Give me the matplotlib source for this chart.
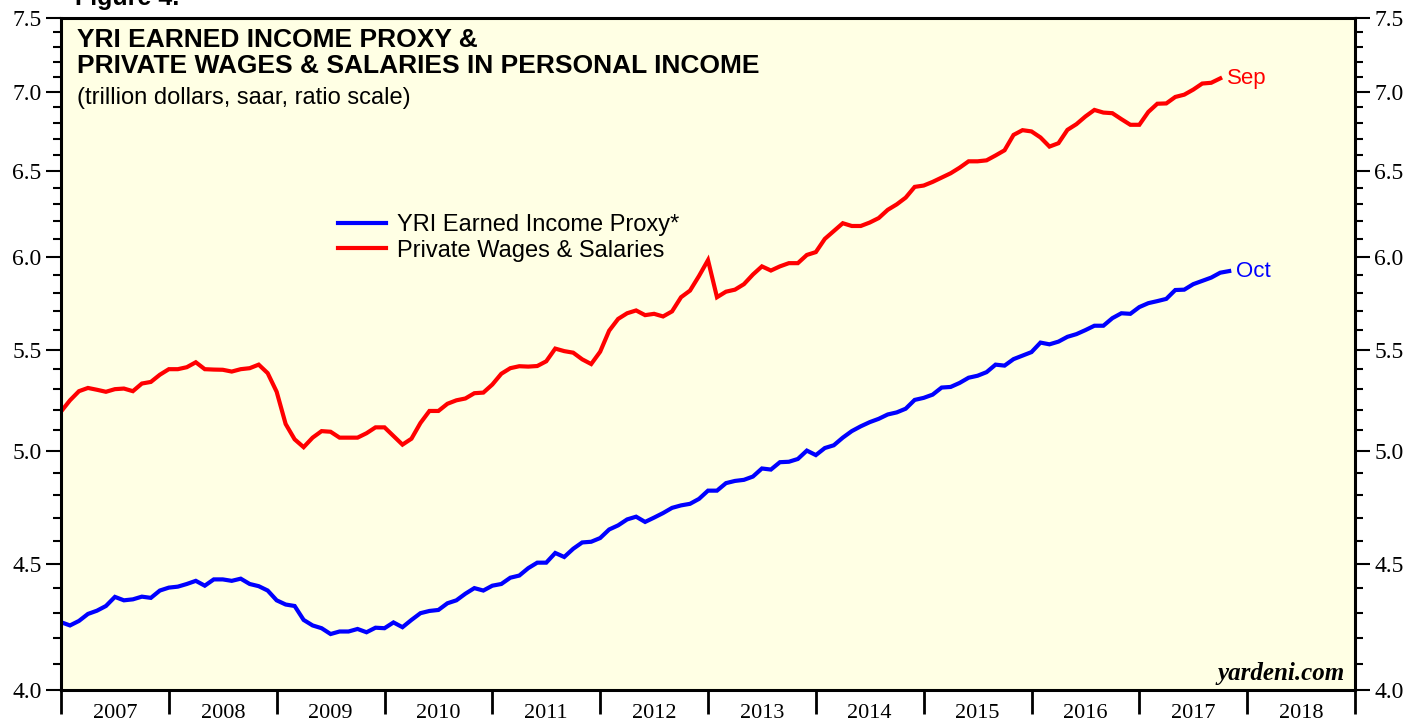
import numpy as np
import matplotlib
matplotlib.use("Agg")
import matplotlib.pyplot as plt
from matplotlib.ticker import FixedLocator, FixedFormatter, NullFormatter

# monthly values, Dec 2006 onwards (trillion dollars, saar)
wages = [5.19, 5.245, 5.29, 5.306, 5.297, 5.287, 5.30, 5.303, 5.29, 5.328,
         5.336, 5.372, 5.40, 5.40, 5.41, 5.435, 5.40, 5.398, 5.397, 5.388,
         5.40, 5.405, 5.423, 5.38, 5.287, 5.13, 5.057, 5.02, 5.065, 5.096,
         5.093, 5.065, 5.065, 5.065, 5.086, 5.114, 5.114, 5.073, 5.032, 5.06,
         5.135, 5.193, 5.193, 5.228, 5.245, 5.254, 5.28, 5.283, 5.323, 5.377,
         5.405, 5.415, 5.413, 5.416, 5.44, 5.505, 5.492, 5.484, 5.45, 5.426,
         5.489, 5.598, 5.66, 5.69, 5.705, 5.68, 5.687, 5.673, 5.70, 5.776,
         5.812, 5.892, 5.98, 5.776, 5.806, 5.817, 5.847, 5.90, 5.945, 5.922,
         5.945, 5.963, 5.963, 6.009, 6.025, 6.10, 6.145, 6.19, 6.174, 6.174,
         6.194, 6.22, 6.268, 6.30, 6.34, 6.404, 6.412, 6.434, 6.46, 6.486,
         6.52, 6.559, 6.559, 6.565, 6.595, 6.627, 6.723, 6.753, 6.745, 6.707,
         6.65, 6.671, 6.755, 6.791, 6.84, 6.882, 6.865, 6.861, 6.823, 6.787,
         6.787, 6.869, 6.922, 6.924, 6.966, 6.981, 7.014, 7.054, 7.059, 7.088]

proxy = [4.262, 4.249, 4.267, 4.295, 4.308, 4.327, 4.364, 4.35, 4.354, 4.365,
         4.36, 4.39, 4.402, 4.406, 4.417, 4.43, 4.41, 4.436, 4.436, 4.43,
         4.439, 4.417, 4.408, 4.39, 4.35, 4.333, 4.327, 4.271, 4.249, 4.238,
         4.215, 4.225, 4.225, 4.235, 4.222, 4.24, 4.238, 4.261, 4.242, 4.271,
         4.298, 4.307, 4.311, 4.338, 4.35, 4.377, 4.40, 4.39, 4.41, 4.417,
         4.443, 4.452, 4.483, 4.506, 4.506, 4.547, 4.53, 4.565, 4.592, 4.595,
         4.611, 4.648, 4.666, 4.692, 4.704, 4.681, 4.70, 4.72, 4.743, 4.754,
         4.761, 4.783, 4.82, 4.82, 4.854, 4.864, 4.869, 4.884, 4.921, 4.916,
         4.95, 4.952, 4.965, 5.004, 4.983, 5.016, 5.029, 5.065, 5.096, 5.119,
         5.139, 5.155, 5.176, 5.186, 5.204, 5.247, 5.257, 5.273, 5.308, 5.311,
         5.331, 5.357, 5.367, 5.385, 5.423, 5.418, 5.451, 5.469, 5.487, 5.536,
         5.527, 5.541, 5.566, 5.58, 5.601, 5.624, 5.624, 5.664, 5.69, 5.687,
         5.723, 5.744, 5.755, 5.767, 5.815, 5.817, 5.847, 5.865, 5.883, 5.91,
         5.919]

years = list(range(2007, 2019))
y_major = [4.0, 4.5, 5.0, 5.5, 6.0, 6.5, 7.0, 7.5]

# month-end positions, first point = Dec 2006
x_wages = 2007 + np.arange(len(wages)) / 12
x_proxy = 2007 + np.arange(len(proxy)) / 12

serif = ["Liberation Serif", "DejaVu Serif"]
sans = ["Liberation Sans", "DejaVu Sans"]

fig = plt.figure(figsize=(14.27, 7.21), dpi=100)
ax = fig.add_axes([61 / 1427, 31 / 721, 1294 / 1427, 672 / 721])
ax.set_facecolor("#FFFFE4")

ax.plot(x_proxy, proxy, color="#0000FF", lw=3, label="YRI Earned Income Proxy*",
        solid_joinstyle="miter")
ax.plot(x_wages, wages, color="#FF0000", lw=3, label="Private Wages & Salaries",
        solid_joinstyle="miter")

ax.set_yscale("log")
ax.set_ylim(4.0, 7.5)
ax.set_xlim(2007, 2019)

ax.yaxis.set_major_locator(FixedLocator(y_major))
ax.yaxis.set_major_formatter(FixedFormatter([f"{v:.1f}" for v in y_major]))
minor = [round(v, 1) for v in np.arange(4.1, 7.5, 0.1) if round(v * 10) % 5 != 0]
ax.yaxis.set_minor_locator(FixedLocator(minor))
ax.yaxis.set_minor_formatter(NullFormatter())

ax.xaxis.set_major_locator(FixedLocator(years + [2019]))
ax.xaxis.set_major_formatter(NullFormatter())
ax.xaxis.set_minor_locator(FixedLocator([y + 0.5 for y in years]))
ax.xaxis.set_minor_formatter(FixedFormatter([str(y) for y in years]))

ax.tick_params(axis="y", which="major", direction="out", length=11, width=1.5,
               left=True, right=True, labelleft=True, labelright=True,
               labelsize=17, pad=3)
ax.tick_params(axis="y", which="minor", direction="out", length=6, width=1.5,
               left=True, right=True)
ax.tick_params(axis="x", which="major", direction="out", length=17, width=2)
ax.tick_params(axis="x", which="minor", length=0, labelsize=16, pad=10)
for lab in ax.get_xticklabels(which="minor") + ax.get_yticklabels():
    lab.set_fontfamily(serif)

for s in ax.spines.values():
    s.set_linewidth(2.2)

ax.text(0.012, 0.985, "YRI EARNED INCOME PROXY &\nPRIVATE WAGES & SALARIES IN PERSONAL INCOME",
        transform=ax.transAxes, ha="left", va="top", fontsize=19, fontweight="bold",
        family=sans, linespacing=1.12)
ax.text(0.012, 0.897, "(trillion dollars, saar, ratio scale)", transform=ax.transAxes,
        ha="left", va="top", fontsize=17, family=sans)

ax.text(x_wages[-1] + 0.06, wages[-1], "Sep", color="#FF0000", fontsize=16,
        family=sans, va="center", ha="left")
ax.text(x_proxy[-1] + 0.06, proxy[-1], "Oct", color="#0000FF", fontsize=16,
        family=sans, va="center", ha="left")

leg = ax.legend(loc="upper left", bbox_to_anchor=(0.198, 0.74), frameon=False,
                prop={"family": sans, "size": 17}, handlelength=2.0,
                handletextpad=0.5, labelspacing=0.15)
for h in leg.legend_handles:
    h.set_linewidth(3)

ax.text(0.992, 0.008, "yardeni.com", transform=ax.transAxes, ha="right", va="bottom",
        fontsize=18, fontweight="bold", fontstyle="italic", family=serif)

fig.text(75 / 1427, 1 - 5 / 721, "Figure 4.", ha="left", va="baseline",
         fontsize=18, fontweight="bold", family=sans)

fig.savefig("out.png", dpi=100, facecolor="white")
